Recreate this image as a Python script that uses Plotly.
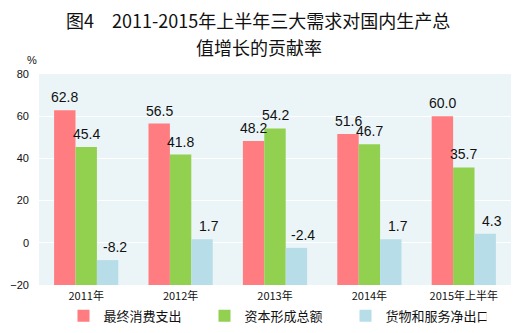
import plotly.graph_objects as go

categories = ["2011年", "2012年", "2013年", "2014年", "2015年上半年"]
series_names = ["最终消费支出", "资本形成总额", "货物和服务净出口"]
consumption = [62.8, 56.5, 48.2, 51.6, 60.0]
capital = [45.4, 41.8, 54.2, 46.7, 35.7]
net_export = [-8.2, 1.7, -2.4, 1.7, 4.3]
y_ticks = [-20, 0, 20, 40, 60, 80]
title_line1 = "图4　2011-2015年上半年三大需求对国内生产总"
title_line2 = "值增长的贡献率"

colors = ["#FF7C80", "#92D050", "#B7DDE8"]
label_xshift = [0, 0, 7]
base_val = y_ticks[0]
bargap = 0.32
FONT = "Liberation Sans, Arial, Noto Sans CJK SC"
CJK = "Noto Sans CJK SC, Liberation Sans"

fig = go.Figure()
all_series = [consumption, capital, net_export]
xs = list(range(len(categories)))
for name, vals, col in zip(series_names, all_series, colors):
    fig.add_trace(go.Bar(
        x=xs, y=[v - base_val for v in vals], base=base_val,
        name=name, marker=dict(color=col, line=dict(width=0)),
        hoverinfo="skip",
    ))

bw = (1 - bargap) / 3
annotations = []
for j, vals in enumerate(all_series):
    for i, v in enumerate(vals):
        annotations.append(dict(
            x=i + (j - 1) * bw, y=v, xref="x", yref="y",
            text=f"{v:.1f}", showarrow=False, yanchor="bottom",
            yshift=3, xshift=label_xshift[j],
            font=dict(family=FONT, size=14, color="#111111"),
        ))
annotations.append(dict(
    x=-0.03, y=1.106, xref="paper", yref="paper", text="%",
    showarrow=False, font=dict(family=FONT, size=11, color="#111111"),
))
annotations.append(dict(
    x=0.466, y=1.128, xref="paper", yref="paper", text=title_line2,
    showarrow=False, xanchor="center", yanchor="middle",
    font=dict(family=CJK, size=18, color="#111111"),
))

fig.update_layout(
    width=529, height=333,
    margin=dict(l=39, r=18, t=74, b=48, autoexpand=False),
    paper_bgcolor="white", plot_bgcolor="#EBF5F8",
    barmode="group", bargap=bargap, bargroupgap=0,
    title=dict(
        text=title_line1,
        x=0.488, xanchor="center", xref="container",
        y=0.934, yanchor="middle", yref="container",
        font=dict(family=CJK, size=18, color="#111111"),
    ),
    xaxis=dict(
        tickmode="array", tickvals=xs, ticktext=categories,
        range=[-0.5, len(categories) - 0.5],
        showgrid=False, zeroline=False, showline=False, ticks="",
        tickfont=dict(family=CJK, size=11, color="#111111"),
        ticklabelstandoff=3,
    ),
    yaxis=dict(
        range=[y_ticks[0], y_ticks[-1]], tickvals=y_ticks,
        showgrid=True, gridcolor="white", gridwidth=1,
        zeroline=False, showline=False, ticks="",
        tickfont=dict(family=FONT, size=11, color="#111111"),
        ticklabelstandoff=9,
    ),
    legend=dict(
        orientation="h", x=0.5, xanchor="center", y=-0.075, yanchor="top",
        font=dict(family=CJK, size=13, color="#111111"),
        itemwidth=30, entrywidth=96, entrywidthmode="pixels",
        traceorder="normal",
    ),
    annotations=annotations,
    showlegend=True,
)

fig.write_html("out.html")
